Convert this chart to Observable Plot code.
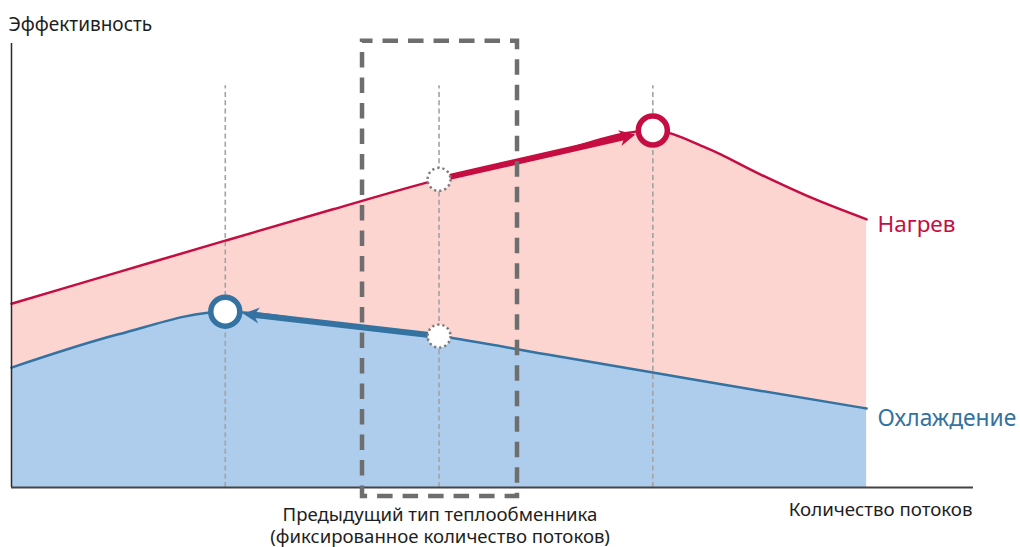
<!DOCTYPE html>
<html>
<head>
<meta charset="utf-8">
<script src="https://cdn.jsdelivr.net/npm/d3@7"></script>
<script src="https://cdn.jsdelivr.net/npm/@observablehq/plot@0.6"></script>
<style>
  body { margin: 0; background: #fff; }
  #chart svg { display: block; }
</style>
</head>
<body>
<div id="chart"></div>
<script>
// ---- data ----
const heatX   = [0, 0.5, 1, 1.5, 2, 2.5, 3, 3.25, 3.5, 3.75, 4];
const heating = [41.4, 48.5, 55.6, 62.6, 69.4, 74.9, 80.4, 76.5, 70.6, 65.1, 60.4];
const coolX   = [0, 0.5, 1, 1.5, 2, 2.5, 3, 3.5, 4];
const cooling = [27.0, 34.5, 39.6, 36.9, 34.1, 30.0, 25.9, 21.8, 17.8];
const guideX  = [1, 2, 3];
const guideTop = 90.5;
const prevBoxX = [1.642, 2.367];
const prevBoxY = [-2.0, 100.5];
const prevIndexHeat = 4, optIndexHeat = 6;   // x = 2 -> x = 3
const prevIndexCool = 4, optIndexCool = 2;   // x = 2 -> x = 1
const seriesNames = ["Нагрев", "Охлаждение"];
const yLabel = "Эффективность";
const xLabel = "Количество потоков";
const boxLabelLines = ["Предыдущий тип теплообменника", "(фиксированное количество потоков)"];

// ---- styles ----
const RED = "#c50d42", BLUE = "#3372a1";
const PINK = "#fcd4d0", LBLUE = "#aecdec";
const W = 1020, H = 547, ML = 11, MR = 47, MT = 43, MB = 60;
const XD = [0, 4.5], YD = [0, 100];
const kx = (W - ML - MR) / (XD[1] - XD[0]);
const ky = (H - MT - MB) / (YD[1] - YD[0]);

const heat = heatX.map((x, i) => ({x, y: heating[i]}));
const cool = coolX.map((x, i) => ({x, y: cooling[i]}));
const box = [{x1: prevBoxX[0], x2: prevBoxX[1], y1: prevBoxY[0], y2: prevBoxY[1]}];

function arrowSpec(from, to) {
  const dxp = (to.x - from.x) * kx, dyp = -(to.y - from.y) * ky;
  return {x1: from.x, y1: from.y, x2: to.x, y2: to.y,
          rot: Math.atan2(dxp, -dyp) * 180 / Math.PI};
}
const arrHeat = arrowSpec(heat[prevIndexHeat], heat[optIndexHeat]);
const arrCool = arrowSpec(cool[prevIndexCool], cool[optIndexCool]);

// barbed arrow head, pointing up, tip placed 18px before the symbol centre
const head = {
  draw(ctx) {
    ctx.moveTo(0, 18);
    ctx.lineTo(-8, 34);
    ctx.lineTo(0, 29);
    ctx.lineTo(8, 34);
    ctx.closePath();
  }
};

const boxMid = d => (d.x1 + d.x2) / 2;

const chart = Plot.plot({
  width: W, height: H,
  marginLeft: ML, marginRight: MR, marginTop: MT, marginBottom: MB,
  x: {domain: XD, axis: null},
  y: {domain: YD, axis: null},
  style: {fontFamily: "'Noto Sans', sans-serif", background: "#fff"},
  marks: [
    Plot.areaY(heat, {x: "x", y: "y", fill: PINK, curve: "monotone-x"}),
    Plot.areaY(cool, {x: "x", y: "y", fill: LBLUE, curve: "monotone-x"}),
    Plot.ruleX(guideX, {y1: 0, y2: guideTop, stroke: "#a3a3a3", strokeWidth: 1.6, strokeDasharray: "5,3.3"}),
    Plot.line(heat, {x: "x", y: "y", stroke: RED, strokeWidth: 2.5, curve: "monotone-x"}),
    Plot.line(cool, {x: "x", y: "y", stroke: BLUE, strokeWidth: 2.5, curve: "monotone-x"}),
    Plot.ruleX([0], {stroke: "#2a2a2a", strokeWidth: 1.5}),
    Plot.ruleY([0], {stroke: "#444", strokeWidth: 2}),
    // arrows
    Plot.arrow([arrHeat], {x1: "x1", y1: "y1", x2: "x2", y2: "y2", stroke: RED, strokeWidth: 6,
      headLength: 0, insetStart: 12, insetEnd: 30}),
    Plot.dot([arrHeat], {x: "x2", y: "y2", symbol: head, rotate: "rot", fill: RED, stroke: "none", r: 10}),
    Plot.arrow([arrCool], {x1: "x1", y1: "y1", x2: "x2", y2: "y2", stroke: BLUE, strokeWidth: 6,
      headLength: 0, insetStart: 12, insetEnd: 30}),
    Plot.dot([arrCool], {x: "x2", y: "y2", symbol: head, rotate: "rot", fill: BLUE, stroke: "none", r: 10}),
    // previous exchanger box
    Plot.rect(box, {x1: "x1", x2: "x2", y1: "y1", y2: "y2", fill: "none", stroke: "#6e6e6e",
      strokeWidth: 4.5, strokeDasharray: "15.5,10", strokeDashoffset: 5}),
    // markers
    Plot.dot([heat[prevIndexHeat], cool[prevIndexCool]], {x: "x", y: "y", r: 11.5, fill: "#fff",
      stroke: "#7a7a7a", strokeWidth: 2.5, strokeDasharray: "2.2,3"}),
    Plot.dot([heat[optIndexHeat]], {x: "x", y: "y", r: 14.5, fill: "#fff", stroke: RED, strokeWidth: 5.5}),
    Plot.dot([cool[optIndexCool]], {x: "x", y: "y", r: 14.5, fill: "#fff", stroke: BLUE, strokeWidth: 5.5}),
    // series labels
    Plot.text([heat[heat.length - 1]], {x: "x", y: "y", text: () => seriesNames[0], fill: RED,
      fontSize: 22.5, textAnchor: "start", lineAnchor: "bottom", dx: 11, dy: 13}),
    Plot.text([cool[cool.length - 1]], {x: "x", y: "y", text: () => seriesNames[1], fill: BLUE,
      fontSize: 22.8, textAnchor: "start", lineAnchor: "bottom", dx: 11, dy: 18}),
    // axis labels
    Plot.text([yLabel], {frameAnchor: "top-left", textAnchor: "start", lineAnchor: "bottom",
      dx: -3, dy: -13, fontSize: 19, fill: "#1e1e1e"}),
    Plot.text([xLabel], {frameAnchor: "bottom-right", textAnchor: "end", lineAnchor: "bottom",
      dx: -1, dy: 28, fontSize: 18.7, fill: "#1e1e1e"}),
    // box annotation (two lines)
    Plot.text(box, {x: boxMid, frameAnchor: "bottom", text: () => boxLabelLines[0],
      textAnchor: "middle", lineAnchor: "bottom", dy: 33, fontSize: 18.6, fill: "#1e1e1e"}),
    Plot.text(box, {x: boxMid, frameAnchor: "bottom", text: () => boxLabelLines[1],
      textAnchor: "middle", lineAnchor: "bottom", dy: 55.5, fontSize: 18.6, fill: "#1e1e1e"})
  ]
});
document.getElementById("chart").appendChild(chart);
</script>
</body>
</html>
